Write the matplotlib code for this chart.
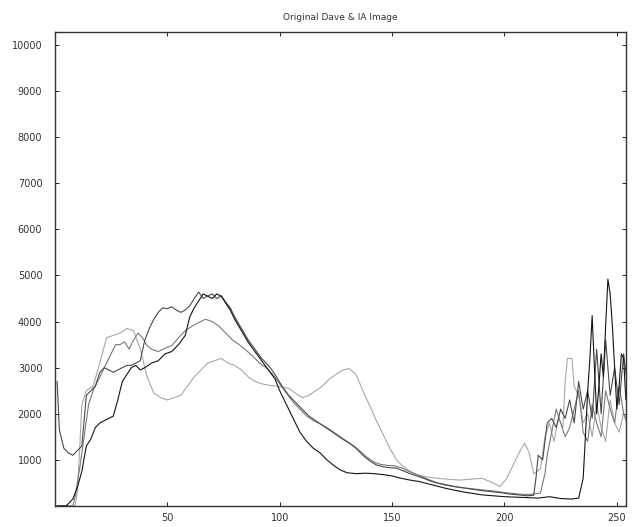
import matplotlib
matplotlib.use('Agg')
import matplotlib.pyplot as plt

# histogram counts (grey level -> pixel count)
s1_x = [1, 5, 8, 10, 12, 14, 16, 18, 20, 22, 24, 26, 28, 30, 32, 34, 36, 38, 40, 43,
        46, 49, 52, 55, 58, 60, 62, 64, 66, 68, 70, 72, 74, 76, 78, 80, 83, 86, 89, 92,
        95, 98, 100, 103, 106, 109, 112, 115, 118, 121, 124, 127, 130, 134, 138, 142, 146, 150, 154, 158,
        162, 166, 170, 174, 178, 182, 186, 190, 195, 200, 205, 210, 215, 220, 225, 230, 233, 235, 236, 237,
        238, 239, 240, 241, 242, 243, 244, 245, 246, 247, 248, 249, 250, 251, 252, 253, 254, 255, 256]
s1_y = [0, 0, 150, 400, 750, 1300, 1450, 1700, 1800, 1850, 1900, 1950, 2300, 2700, 2850, 3000, 3050, 2950, 3000, 3100,
        3150, 3300, 3350, 3500, 3700, 4100, 4300, 4450, 4600, 4550, 4500, 4600, 4550, 4400, 4250, 4050, 3800, 3550, 3350, 3150,
        2950, 2750, 2500, 2200, 1900, 1600, 1400, 1250, 1150, 1000, 880, 780, 720, 700, 710, 700, 680, 650, 600, 560,
        530, 480, 430, 380, 340, 300, 270, 240, 220, 200, 190, 180, 170, 200, 160, 150, 170, 600, 1500, 2480,
        3200, 4130, 3000, 2000, 2600, 3300, 2800, 3900, 4920, 4600, 3900, 3000, 2100, 2600, 3300, 3200, 2300, 2500, 3400]

s2_x = [1, 2, 4, 6, 8, 10, 12, 13, 14, 16, 18, 20, 22, 24, 26, 28, 30, 32, 34, 36,
        38, 40, 42, 44, 46, 48, 50, 52, 54, 56, 58, 60, 62, 64, 66, 68, 70, 72, 74, 76,
        78, 80, 83, 86, 89, 92, 95, 98, 101, 104, 107, 110, 113, 116, 119, 122, 125, 128, 131, 134,
        137, 140, 143, 146, 149, 152, 155, 158, 161, 164, 167, 170, 174, 178, 182, 186, 190, 194, 198, 202,
        206, 210, 213, 214, 215, 217, 219, 221, 223, 225, 227, 229, 231, 233, 235, 237, 239, 241, 243, 245,
        247, 249, 251, 253, 255, 256]
s2_y = [2700, 1650, 1250, 1150, 1100, 1200, 1300, 1850, 2400, 2500, 2600, 2900, 3000, 2950, 2900, 2950, 3000, 3050, 3050, 3100,
        3150, 3600, 3850, 4050, 4200, 4300, 4280, 4320, 4250, 4200, 4250, 4340, 4500, 4640, 4500, 4560, 4600, 4500, 4560, 4420,
        4300, 4100, 3850, 3600, 3400, 3200, 3050, 2850, 2600, 2400, 2250, 2100, 1950, 1850, 1750, 1650, 1550, 1450, 1360, 1250,
        1100, 980, 890, 850, 830, 820, 760, 700, 650, 600, 540, 500, 460, 420, 390, 360, 330, 310, 290, 260,
        240, 220, 230, 600, 1100, 1000, 1800, 1900, 1700, 2100, 1900, 2300, 1800, 2700, 2100, 2500, 1900, 3400, 2000, 3600,
        2400, 3000, 2200, 3300, 2500, 2700]

s3_x = [1, 8, 9, 11, 13, 15, 17, 19, 21, 23, 25, 27, 29, 31, 33, 35, 37, 39, 41, 43,
        46, 49, 52, 55, 58, 61, 64, 67, 70, 73, 76, 79, 82, 85, 88, 91, 94, 97, 100, 103,
        106, 109, 112, 115, 118, 121, 124, 127, 130, 133, 136, 139, 142, 145, 148, 151, 154, 157, 160, 163,
        166, 169, 172, 176, 180, 184, 188, 192, 196, 200, 204, 208, 212, 216, 218, 219, 221, 223, 225, 227,
        229, 231, 233, 235, 237, 239, 241, 243, 245, 247, 249, 251, 253, 255, 256]
s3_y = [0, 0, 200, 800, 1500, 2200, 2500, 2700, 2900, 3100, 3300, 3500, 3500, 3560, 3400, 3600, 3750, 3650, 3480, 3400,
        3350, 3420, 3480, 3650, 3800, 3900, 3980, 4050, 4000, 3900, 3750, 3600, 3500, 3380, 3250, 3100, 3000, 2850, 2650, 2450,
        2250, 2100, 1950, 1850, 1780, 1700, 1600, 1500, 1400, 1300, 1180, 1050, 950, 900, 880, 870, 830, 760, 700, 640,
        580, 520, 470, 430, 400, 380, 360, 340, 320, 290, 270, 250, 250, 280, 700, 1100, 1600, 2100, 1800, 1500,
        1700, 2100, 2500, 1600, 1400, 2200, 1800, 1500, 2500, 2100, 1800, 2600, 2000, 1800, 1900]

s4_x = [1, 9, 10, 11, 12, 14, 17, 20, 23, 26, 29, 32, 35, 38, 41, 44, 47, 50, 53, 56,
        59, 62, 65, 68, 71, 74, 77, 80, 83, 86, 89, 92, 95, 98, 101, 104, 107, 110, 113, 116,
        119, 122, 125, 128, 131, 134, 137, 140, 143, 146, 149, 152, 155, 158, 161, 164, 167, 170, 175, 180,
        185, 190, 194, 198, 201, 204, 207, 209, 211, 213, 216, 218, 220, 222, 224, 226, 227, 228, 230, 231,
        233, 235, 237, 239, 241, 243, 245, 247, 249, 251, 253, 255, 256]
s4_y = [0, 0, 300, 1200, 2200, 2500, 2600, 3100, 3650, 3700, 3750, 3850, 3800, 3400, 2800, 2450, 2350, 2300, 2350, 2400,
        2600, 2800, 2950, 3100, 3150, 3200, 3100, 3050, 2950, 2800, 2700, 2650, 2620, 2600, 2580, 2550, 2450, 2350, 2400, 2500,
        2600, 2750, 2850, 2950, 2980, 2850, 2500, 2180, 1850, 1550, 1250, 1000, 850, 750, 680, 640, 620, 600, 580, 560,
        580, 600, 520, 420, 600, 900, 1200, 1360, 1150, 700, 800, 1500, 1800, 1400, 1900, 1700, 2700, 3200, 3200, 2600,
        2400, 1800, 2000, 1500, 2200, 1700, 1400, 2300, 1800, 1600, 2000, 1700, 2100]

series = [(s4_x, s4_y, '#a8a8a8'), (s3_x, s3_y, '#7a7a7a'),
          (s2_x, s2_y, '#4a4a4a'), (s1_x, s1_y, '#151515')]

fig = plt.figure(figsize=(6.38, 5.27), dpi=100)
ax = fig.add_axes([0.086, 0.040, 0.895, 0.899])

for xs, ys, col in series:
    ax.plot(xs, ys, color=col, linewidth=0.8)

ax.set_xlim(0, 254)
ax.set_ylim(0, 10280)
ax.set_xticks([50, 100, 150, 200, 250])
ax.set_yticks(range(1000, 10001, 1000))
ax.tick_params(direction='in', length=3, width=0.6, labelsize=7,
               labelcolor='#333333', top=True, right=True)
ax.tick_params(axis='y', pad=9)
ax.tick_params(axis='x', pad=5)
for sp in ax.spines.values():
    sp.set_linewidth(1.0)
    sp.set_color('#333333')
ax.set_title('Original Dave & IA Image', fontsize=6.5, color='#333333', pad=9)

fig.savefig('out.png', dpi=100)
